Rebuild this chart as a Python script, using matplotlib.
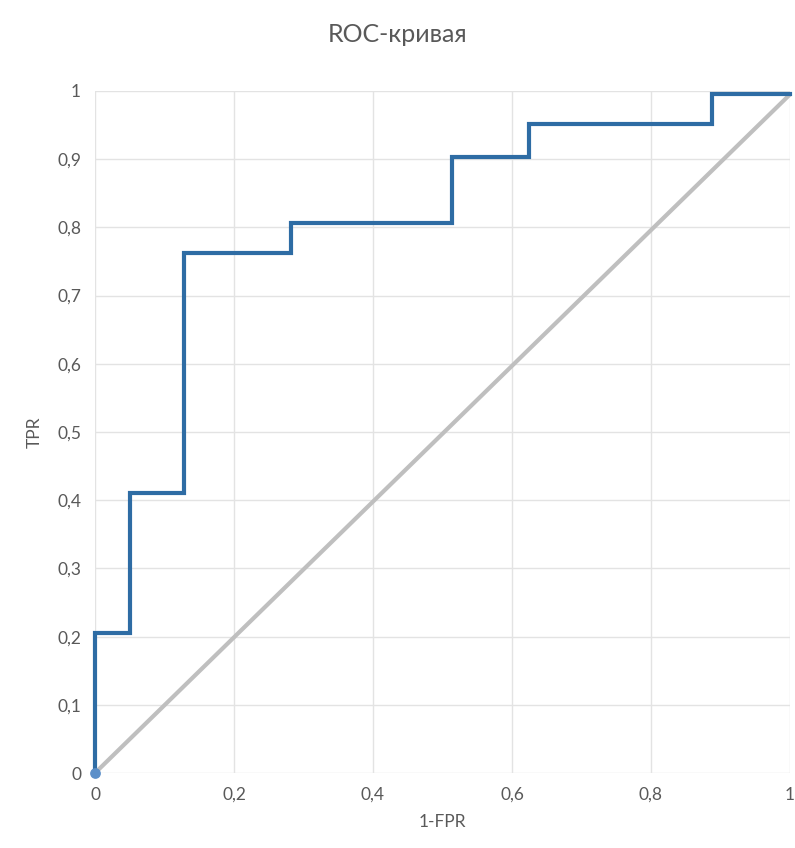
import matplotlib.pyplot as plt
from matplotlib.ticker import FuncFormatter

# ROC curve points (1-FPR, TPR)
fpr = [0.0, 0.0, 0.05, 0.05, 0.128, 0.128, 0.282, 0.282, 0.513, 0.513,
       0.625, 0.625, 0.888, 0.888, 1.0]
tpr = [0.0, 0.205, 0.205, 0.41, 0.41, 0.762, 0.762, 0.806, 0.806, 0.903,
       0.903, 0.951, 0.951, 0.995, 0.995]
diag = [0.0, 1.0]

plt.rcParams['font.family'] = ['Lato', 'DejaVu Sans']

fig = plt.figure(figsize=(7.95, 8.48), dpi=100)
ax = fig.add_axes([0.1195, 0.0884, 0.8742, 0.8043])

ax.plot(diag, [0.0, 0.995], color='#bfbfbf', lw=3, solid_capstyle='butt',
        zorder=2, clip_on=False)
ax.plot(fpr, tpr, color='#2e6ca4', lw=3, solid_joinstyle='miter',
        zorder=3, clip_on=False)
ax.scatter([fpr[0]], [tpr[0]], s=45, color='#5b8fc9', zorder=4, clip_on=False)

ax.set_xlim(0, 1)
ax.set_ylim(0, 1)
ax.set_xticks([0, 0.2, 0.4, 0.6, 0.8, 1.0])
ax.set_yticks([i / 10 for i in range(11)])

fmt = FuncFormatter(lambda v, p: ('%g' % round(v, 2)).replace('.', ','))
ax.xaxis.set_major_formatter(fmt)
ax.yaxis.set_major_formatter(fmt)

ax.grid(True, color='#e3e3e3', lw=1)
ax.set_axisbelow(True)
for s in ax.spines.values():
    s.set_visible(False)
ax.tick_params(length=0, labelsize=12.5, labelcolor='#595959', pad=10)

ax.set_xlabel('1-FPR', fontsize=12.5, color='#595959', labelpad=8)
ax.set_ylabel('TPR', fontsize=12.5, color='#595959', labelpad=10)
fig.suptitle('ROC-кривая', fontsize=18, color='#595959', y=0.973)

fig.savefig('out.png', dpi=100)
